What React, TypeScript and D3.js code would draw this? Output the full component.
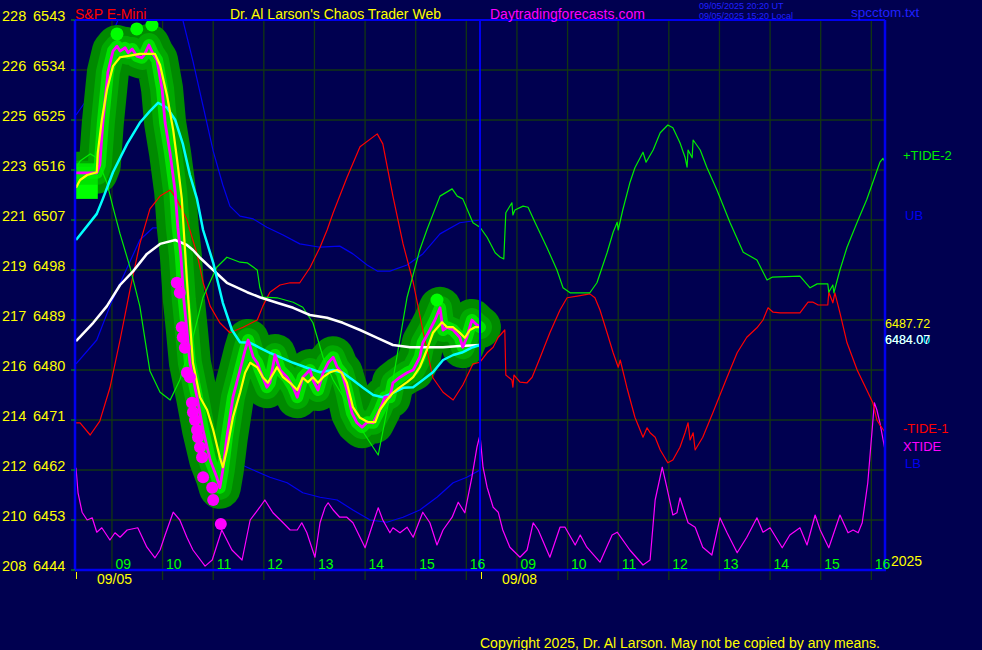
import React from 'react';
import * as d3 from 'd3';

// time axis: hours since chart start (0..16); day 1 = 0..8, day 2 = 8..16
const START_HOUR = 8.27;
const HOURS = [9, 10, 11, 12, 13, 14, 15, 16];
const DAYS = ['09/05', '09/08'];
const PRICE_TICKS = [6543, 6534, 6525, 6516, 6507, 6498, 6489, 6480, 6471, 6462, 6453, 6444];
const ALT_TICKS = ['228', '226', '225', '223', '221', '219', '217', '216', '214', '212', '210', '208'];

const PRICE: [number, number][] = [
  [0.02, 6515.5], [0.43, 6515.5], [0.49, 6516.9], [0.55, 6524.5], [0.65, 6533.6], [0.75, 6537.4], [0.83, 6538.3],
  [0.89, 6537.4], [0.99, 6538.0], [1.05, 6537.1], [1.13, 6537.8], [1.22, 6536.5], [1.32, 6536.2], [1.38, 6536.9],
  [1.46, 6538.5], [1.54, 6536.9], [1.62, 6535.8], [1.72, 6530.6], [1.78, 6524.5], [1.88, 6518.9], [1.98, 6512.0],
  [2.03, 6505.7], [2.09, 6500.7], [2.15, 6492.6], [2.21, 6487.2], [2.27, 6481.3], [2.41, 6475.1], [2.53, 6469.2],
  [2.67, 6463.8], [2.80, 6460.7], [2.86, 6458.8], [2.92, 6462.0], [3.00, 6467.9], [3.12, 6475.1], [3.26, 6480.0],
  [3.36, 6483.6], [3.42, 6485.4], [3.52, 6482.3], [3.60, 6481.3], [3.65, 6480.0], [3.79, 6476.9], [3.85, 6477.7],
  [3.95, 6482.7], [4.05, 6480.0], [4.19, 6478.7], [4.31, 6476.9], [4.39, 6475.1], [4.50, 6478.7], [4.64, 6480.0],
  [4.70, 6478.2], [4.80, 6476.4], [4.90, 6479.5], [5.00, 6481.3], [5.10, 6482.3], [5.18, 6480.5], [5.27, 6479.5],
  [5.37, 6476.4], [5.47, 6472.3], [5.57, 6470.5], [5.67, 6469.7], [5.77, 6470.6], [5.89, 6470.5], [6.02, 6472.8],
  [6.12, 6475.1], [6.22, 6475.1], [6.28, 6477.7], [6.42, 6478.7], [6.56, 6479.5], [6.68, 6480.0], [6.81, 6482.3],
  [6.87, 6484.9], [7.01, 6487.2], [7.11, 6489.0], [7.21, 6491.2], [7.27, 6487.2], [7.35, 6487.7], [7.47, 6487.2],
  [7.60, 6485.9], [7.66, 6484.1], [7.74, 6485.9], [7.84, 6489.0], [7.94, 6488.1], [8.00, 6487.7],
];

const SMOOTH: [number, number][] = [
  [0.02, 6512.8], [0.10, 6514.2], [0.24, 6515.1], [0.43, 6515.6], [0.45, 6519.1], [0.53, 6525.0], [0.63, 6530.4],
  [0.75, 6534.7], [0.89, 6536.3], [1.03, 6536.5], [1.28, 6536.9], [1.44, 6536.9], [1.58, 6536.9], [1.68, 6534.9],
  [1.82, 6529.3], [1.94, 6523.2], [2.03, 6516.9], [2.11, 6510.8], [2.21, 6496.2], [2.33, 6481.3], [2.47, 6475.1],
  [2.61, 6472.8], [2.73, 6469.2], [2.86, 6464.3], [2.92, 6462.5], [3.00, 6465.6], [3.12, 6471.5], [3.26, 6475.9],
  [3.36, 6479.5], [3.46, 6481.3], [3.60, 6480.5], [3.71, 6478.7], [3.81, 6477.7], [3.99, 6480.5], [4.11, 6478.7],
  [4.25, 6477.7], [4.39, 6476.4], [4.50, 6478.6], [4.60, 6477.8], [4.70, 6478.7], [4.80, 6477.7], [4.90, 6478.7],
  [5.04, 6479.6], [5.18, 6480.0], [5.27, 6479.5], [5.37, 6477.7], [5.49, 6473.3], [5.63, 6471.4], [5.79, 6470.6],
  [5.93, 6470.6], [6.02, 6472.8], [6.16, 6474.6], [6.28, 6475.9], [6.42, 6476.9], [6.56, 6477.8], [6.68, 6478.7],
  [6.81, 6480.5], [6.95, 6483.6], [7.07, 6486.7], [7.25, 6488.6], [7.35, 6487.7], [7.47, 6487.7], [7.60, 6486.7],
  [7.70, 6485.8], [7.80, 6487.2], [7.90, 6487.7], [8.00, 6487.72],
];

const CYAN_AVG: [number, number][] = [
  [0.02, 6503.4], [0.43, 6508.1], [0.55, 6510.8], [0.75, 6515.6], [1.03, 6520.7], [1.28, 6524.5], [1.48, 6526.6],
  [1.64, 6528.1], [1.82, 6527.2], [1.98, 6525.0], [2.13, 6520.7], [2.27, 6515.1], [2.41, 6510.8], [2.53, 6505.2],
  [2.73, 6499.3], [2.92, 6492.1], [3.10, 6487.2], [3.26, 6485.0], [3.46, 6484.9], [3.65, 6484.0], [3.85, 6483.1],
  [4.05, 6482.3], [4.31, 6481.3], [4.58, 6480.4], [4.84, 6479.6], [5.10, 6480.0], [5.29, 6479.5], [5.49, 6478.2],
  [5.69, 6476.8], [5.89, 6475.5], [6.08, 6475.1], [6.28, 6475.9], [6.48, 6476.8], [6.68, 6476.9], [6.87, 6478.2],
  [7.07, 6479.6], [7.27, 6481.8], [7.47, 6482.7], [7.66, 6483.2], [7.86, 6484.1], [8.00, 6484.5],
];

const WHITE_AVG: [number, number][] = [
  [0.02, 6485.2], [0.36, 6488.5], [0.63, 6491.5], [0.89, 6495.3], [1.15, 6497.8], [1.42, 6500.9], [1.68, 6502.7],
  [1.98, 6503.4], [2.21, 6502.5], [2.33, 6501.6], [2.47, 6500.2], [2.67, 6498.5], [3.00, 6495.7], [3.40, 6494.0],
  [3.65, 6493.1], [3.99, 6492.1], [4.31, 6491.2], [4.64, 6489.9], [4.98, 6489.4], [5.29, 6488.5], [5.63, 6487.2],
  [5.97, 6485.8], [6.28, 6484.5], [6.62, 6484.1], [6.95, 6484.1], [7.27, 6484.1], [7.60, 6484.3], [8.00, 6484.5],
];

const UPPER_BAND: [number, number][] = [
  [0.02, 6525.9], [0.26, 6529.0], [0.49, 6533.6], [0.69, 6539.4], [0.89, 6543.9], [1.48, 6546.6], [1.98, 6544.8],
  [2.13, 6543.0], [2.33, 6535.6], [2.53, 6527.5], [2.73, 6519.4], [2.92, 6513.3], [3.06, 6509.5], [3.26, 6507.7],
  [3.52, 6507.2], [3.79, 6505.7], [4.11, 6504.3], [4.44, 6502.7], [4.84, 6502.1], [5.23, 6502.3], [5.49, 6500.9],
  [5.77, 6498.9], [5.97, 6497.8], [6.22, 6497.8], [6.56, 6498.9], [6.87, 6500.9], [7.21, 6504.5], [7.60, 6506.5],
  [8.00, 6507.0],
];

const LOWER_BAND: [number, number][] = [
  [0.02, 6481.1], [0.43, 6485.4], [0.69, 6491.5], [1.03, 6498.4], [1.28, 6503.4], [1.54, 6505.6], [1.68, 6505.6],
  [1.88, 6502.5], [2.13, 6494.4], [2.33, 6487.7], [2.53, 6482.3], [2.67, 6477.3], [2.86, 6470.1], [3.20, 6463.3],
  [3.52, 6462.0], [3.85, 6460.7], [4.19, 6459.7], [4.50, 6457.9], [4.84, 6457.1], [5.18, 6456.6], [5.49, 6454.8],
  [5.83, 6453.0], [6.16, 6452.6], [6.48, 6453.5], [6.81, 6454.8], [7.15, 6457.1], [7.47, 6459.7], [7.74, 6460.7],
  [8.00, 6462.0],
];

const TIDE_1: [number, number][] = [
  [0.02, 6470.5], [0.10, 6470.5], [0.30, 6468.3], [0.49, 6470.8], [0.69, 6476.8], [0.89, 6485.4], [1.09, 6494.6],
  [1.28, 6502.7], [1.48, 6509.0], [1.68, 6511.3], [1.88, 6512.4], [2.01, 6510.8], [2.21, 6507.0], [2.41, 6500.9],
  [2.53, 6495.8], [2.67, 6491.5], [2.86, 6488.5], [3.06, 6486.7], [3.32, 6487.7], [3.60, 6489.0], [3.71, 6491.5],
  [3.85, 6494.0], [4.05, 6495.3], [4.25, 6495.7], [4.44, 6495.7], [4.64, 6498.4], [4.84, 6502.1], [4.98, 6505.2],
  [5.10, 6508.3], [5.37, 6514.6], [5.63, 6520.2], [5.97, 6522.5], [6.08, 6520.7], [6.28, 6511.3], [6.48, 6502.7],
  [6.68, 6495.8], [6.87, 6487.2], [7.07, 6478.6], [7.27, 6476.0], [7.47, 6474.6], [7.66, 6477.3], [7.86, 6481.1],
  [8.00, 6481.4], [8.14, 6483.1], [8.26, 6484.1], [8.36, 6485.9], [8.49, 6487.2], [8.51, 6479.1], [8.63, 6478.2],
  [8.65, 6476.9], [8.67, 6479.1], [8.79, 6477.8], [8.93, 6477.7], [9.03, 6478.7], [9.19, 6482.3], [9.38, 6486.7],
  [9.58, 6490.8], [9.72, 6493.0], [9.92, 6493.3], [10.17, 6493.7], [10.27, 6493.0], [10.37, 6490.8], [10.51, 6486.7],
  [10.63, 6483.1], [10.73, 6480.5], [10.77, 6481.8], [10.90, 6476.9], [11.06, 6471.5], [11.22, 6467.9], [11.30, 6469.6],
  [11.36, 6468.7], [11.46, 6467.9], [11.56, 6465.6], [11.71, 6463.3], [11.81, 6463.8], [11.95, 6466.1], [12.05, 6468.7],
  [12.11, 6470.5], [12.15, 6467.4], [12.21, 6468.7], [12.25, 6465.6], [12.40, 6467.9], [12.60, 6472.3], [12.88, 6478.7],
  [13.08, 6483.1], [13.27, 6485.9], [13.47, 6487.6], [13.59, 6489.0], [13.69, 6491.2], [13.79, 6490.4], [13.93, 6490.3],
  [14.32, 6490.3], [14.48, 6492.2], [14.58, 6492.2], [14.68, 6491.7], [14.87, 6491.7], [14.89, 6494.0], [14.97, 6492.1],
  [15.01, 6493.9], [15.11, 6490.3], [15.25, 6484.9], [15.45, 6480.0], [15.64, 6476.4], [15.76, 6474.1], [15.84, 6471.0],
  [15.90, 6470.1], [16.00, 6468.8],
];

const TIDE_2: [number, number][] = [
  [0.02, 6516.4], [0.10, 6517.6], [0.30, 6518.9], [0.43, 6518.2], [0.63, 6513.7], [0.75, 6509.3], [0.89, 6504.5],
  [1.09, 6498.4], [1.28, 6491.5], [1.48, 6479.8], [1.68, 6476.0], [1.88, 6474.6], [2.07, 6478.2], [2.33, 6485.9],
  [2.53, 6493.1], [2.80, 6498.5], [3.00, 6500.3], [3.26, 6499.4], [3.40, 6499.3], [3.60, 6498.0], [3.65, 6494.9],
  [3.71, 6493.1], [3.99, 6493.0], [4.31, 6492.2], [4.50, 6491.3], [4.70, 6488.5], [4.90, 6482.3], [5.10, 6478.2],
  [5.37, 6474.1], [5.63, 6469.7], [5.83, 6466.9], [5.99, 6464.7], [6.28, 6478.2], [6.56, 6493.1], [6.81, 6501.6],
  [6.95, 6505.2], [7.21, 6511.3], [7.45, 6512.6], [7.55, 6511.3], [7.66, 6510.8], [7.86, 6506.5], [8.00, 6505.7],
  [8.14, 6503.9], [8.30, 6501.1], [8.40, 6500.3], [8.47, 6500.0], [8.51, 6508.3], [8.63, 6510.1], [8.65, 6507.9],
  [8.69, 6508.8], [8.85, 6509.5], [8.95, 6509.3], [9.09, 6506.5], [9.32, 6502.1], [9.52, 6498.0], [9.64, 6494.8],
  [9.78, 6493.9], [9.98, 6493.9], [10.17, 6493.9], [10.31, 6495.7], [10.51, 6501.1], [10.63, 6504.8], [10.71, 6506.6],
  [10.73, 6505.2], [10.82, 6508.8], [10.96, 6513.7], [11.06, 6516.4], [11.22, 6519.2], [11.28, 6517.4], [11.42, 6519.6],
  [11.56, 6522.7], [11.71, 6524.1], [11.81, 6523.6], [11.95, 6520.9], [12.05, 6518.3], [12.09, 6516.5], [12.11, 6519.6],
  [12.19, 6518.2], [12.21, 6521.4], [12.35, 6519.6], [12.48, 6516.5], [12.68, 6512.4], [12.94, 6506.5], [13.20, 6501.2],
  [13.47, 6499.8], [13.67, 6496.2], [13.77, 6496.7], [14.32, 6496.9], [14.52, 6494.8], [14.66, 6495.5], [14.87, 6495.5],
  [14.89, 6494.0], [14.97, 6495.3], [14.99, 6493.9], [15.11, 6498.0], [15.25, 6502.1], [15.45, 6506.6], [15.64, 6510.7],
  [15.90, 6517.4], [15.96, 6518.1], [16.00, 6517.4],
];

const XTIDE: [number, number][] = [
  [0.02, 6462.4], [0.06, 6457.9], [0.14, 6454.4], [0.24, 6453.0], [0.34, 6453.4], [0.43, 6450.8], [0.53, 6451.6],
  [0.69, 6449.4], [0.79, 6450.7], [0.89, 6449.9], [1.03, 6451.2], [1.24, 6451.6], [1.42, 6448.1], [1.58, 6446.2],
  [1.68, 6447.6], [1.78, 6450.3], [1.94, 6454.4], [2.07, 6453.0], [2.21, 6449.9], [2.33, 6447.6], [2.57, 6444.7],
  [2.71, 6445.8], [2.90, 6451.2], [3.10, 6447.6], [3.30, 6445.8], [3.46, 6453.0], [3.65, 6455.3], [3.75, 6456.6],
  [3.91, 6454.3], [4.11, 6452.5], [4.25, 6451.2], [4.39, 6451.2], [4.48, 6452.5], [4.58, 6450.7], [4.74, 6446.3],
  [4.84, 6452.5], [4.94, 6455.3], [5.00, 6456.1], [5.10, 6454.8], [5.23, 6453.5], [5.37, 6453.5], [5.49, 6452.5],
  [5.63, 6449.9], [5.73, 6448.0], [5.89, 6452.5], [5.99, 6455.2], [6.08, 6453.0], [6.22, 6450.7], [6.28, 6451.6],
  [6.42, 6450.7], [6.56, 6451.7], [6.68, 6449.9], [6.81, 6453.0], [6.87, 6454.4], [7.01, 6452.5], [7.15, 6448.5],
  [7.27, 6451.2], [7.45, 6453.5], [7.57, 6456.2], [7.70, 6454.3], [7.84, 6460.7], [7.94, 6466.1], [8.00, 6468.3],
  [8.06, 6462.5], [8.14, 6458.9], [8.26, 6455.3], [8.36, 6454.4], [8.45, 6451.2], [8.59, 6448.1], [8.79, 6446.3],
  [8.93, 6447.6], [9.05, 6452.5], [9.15, 6451.2], [9.38, 6446.3], [9.58, 6451.7], [9.68, 6451.7], [9.88, 6448.5],
  [9.98, 6450.3], [10.11, 6448.1], [10.37, 6445.4], [10.61, 6450.3], [10.71, 6450.8], [10.96, 6447.6], [11.22, 6444.9],
  [11.36, 6445.8], [11.46, 6456.6], [11.60, 6462.5], [11.69, 6458.9], [11.81, 6453.9], [11.89, 6454.3], [11.95, 6457.0],
  [12.01, 6455.3], [12.11, 6452.5], [12.25, 6451.7], [12.40, 6448.1], [12.58, 6446.7], [12.74, 6453.4], [12.88, 6450.7],
  [13.08, 6447.1], [13.27, 6449.9], [13.47, 6453.4], [13.59, 6450.8], [13.73, 6451.6], [13.97, 6448.0], [14.12, 6450.3],
  [14.32, 6451.6], [14.46, 6448.5], [14.62, 6453.9], [14.72, 6451.2], [14.89, 6448.0], [15.11, 6453.9], [15.27, 6450.7],
  [15.37, 6451.2], [15.47, 6450.7], [15.55, 6452.5], [15.66, 6459.7], [15.79, 6474.1], [15.84, 6472.8], [15.90, 6470.5],
  [16.00, 6465.6],
];

const LOW_DOTS: [number, number][] = [
  [2.01, 6495.7], [2.07, 6493.9], [2.11, 6487.7], [2.13, 6485.9], [2.17, 6484.0], [2.21, 6479.5], [2.27, 6478.7],
  [2.31, 6474.1], [2.33, 6472.4], [2.37, 6471.0], [2.41, 6469.2], [2.43, 6467.9], [2.47, 6466.1], [2.51, 6464.3],
  [2.53, 6460.7], [2.71, 6458.8], [2.73, 6456.6], [2.88, 6452.3],
];

const HIGH_DOTS: [number, number][] = [
  [0.83, 6540.5], [1.22, 6541.4], [1.52, 6542.1], [7.15, 6492.6],
];

const FIRST_BAR = { t0: 0.0, t1: 0.45, high: 6517.2, low: 6510.8 };

const LAST_VALUES = { yellow: '6487.72', white: '6484.07', cyan: '6484.00' };

const FONT = '"Liberation Sans", Arial, sans-serif';

const X0 = 75, X1 = 885, Y0 = 20, Y1 = 570;

export default function App() {
  const x = d3.scaleLinear().domain([0, 16]).range([X0, X1]);
  const y = d3.scaleLinear().domain([6444, 6543]).range([Y1, Y0]);
  const line = d3.line<[number, number]>().x(d => x(d[0])).y(d => y(d[1]));

  const gridHours: { t: number; h: number; d: number }[] = [];
  [0, 1].forEach(d => HOURS.forEach(h => gridHours.push({ t: h - START_HOUR + d * 8, h, d })));

  const grid = '#123612';
  const blue = '#0000f0';
  const pricePath = line(PRICE) || '';

  return (
    <svg width={982} height={650} style={{ position: 'fixed', left: 0, top: 0, display: 'block' }}
      fontFamily={FONT}>
      <defs>
        <clipPath id="plotClip">
          <rect x={X0} y={Y0} width={X1 - X0} height={Y1 - Y0} />
        </clipPath>
      </defs>
      <rect x={0} y={0} width={982} height={650} fill="#000050" />

      {/* horizontal grid */}
      {PRICE_TICKS.map(p => (
        <line key={'h' + p} x1={X0} x2={X1} y1={y(p)} y2={y(p)} stroke={grid} strokeWidth={1.3} />
      ))}
      {/* vertical grid */}
      {gridHours.map(g => (
        <line key={'v' + g.t} x1={x(g.t)} x2={x(g.t)} y1={Y0} y2={g.h === 9 ? Y1 : Y1 + 10}
          stroke={grid} strokeWidth={1.3} />
      ))}

      <g clipPath="url(#plotClip)" fill="none" strokeLinejoin="round">
        <path d={line(UPPER_BAND) || ''} stroke={blue} strokeWidth={1.2} />
        <path d={line(LOWER_BAND) || ''} stroke={blue} strokeWidth={1.2} />

        {/* activity blob */}
        <path d={pricePath} stroke="#008a00" strokeWidth={42} strokeLinecap="round" />
        <rect x={x(FIRST_BAR.t0) - 5} y={y(FIRST_BAR.high)} width={x(FIRST_BAR.t1) - x(FIRST_BAR.t0) + 5}
          height={y(FIRST_BAR.low) - y(FIRST_BAR.high)} fill="#00ff00" />
        <path d={pricePath} stroke="#00c800" strokeWidth={24} strokeLinecap="round" opacity={0.5} />
        <path d={pricePath} stroke="#00f000" strokeWidth={12} strokeLinecap="round" opacity={0.8} />
        {HIGH_DOTS.map((d, i) => (
          <circle key={'g' + i} cx={x(d[0])} cy={y(d[1])} r={6.5} fill="#00ff00" />
        ))}

        <path d={line(XTIDE) || ''} stroke="#ff00ff" strokeWidth={1.2} />
        <path d={line(TIDE_1) || ''} stroke="#ff0000" strokeWidth={1.2} />
        <path d={line(TIDE_2) || ''} stroke="#00ee00" strokeWidth={1.2} />

        <path d={line(WHITE_AVG) || ''} stroke="#ffffff" strokeWidth={2.5} />
        <path d={line(CYAN_AVG) || ''} stroke="#00ffff" strokeWidth={2.5} />
        <path d={pricePath} stroke="#ff00ff" strokeWidth={2.8} />
        <path d={line(SMOOTH) || ''} stroke="#ffff00" strokeWidth={2.2} />
        {LOW_DOTS.map((d, i) => (
          <circle key={'m' + i} cx={x(d[0])} cy={y(d[1])} r={6} fill="#ff00ff" />
        ))}
      </g>

      {/* frame */}
      <line x1={X0} x2={X1} y1={Y0} y2={Y0} stroke={blue} strokeWidth={2} />
      <line x1={X0} x2={X1 + 1} y1={Y1} y2={Y1} stroke={blue} strokeWidth={2.5} />
      <line x1={X0} x2={X0} y1={Y0} y2={Y1} stroke={blue} strokeWidth={2.5} />
      <line x1={X1} x2={X1} y1={Y0} y2={Y1} stroke={blue} strokeWidth={2.5} />
      <line x1={x(8)} x2={x(8)} y1={Y0} y2={Y1} stroke={blue} strokeWidth={2} />

      {/* left axis labels */}
      {PRICE_TICKS.map((p, i) => (
        <g key={'l' + p}>
          <line x1={X0 - 4} x2={X0} y1={y(p)} y2={y(p)} stroke="#00b000" strokeWidth={1} />
          <text x={2} y={y(p) + 0.5} fill="#ffff00" fontSize={14.5}>{ALT_TICKS[i]}</text>
          <text x={33} y={y(p) + 0.5} fill="#ffff00" fontSize={14.5}>{p}</text>
        </g>
      ))}

      {/* hour labels */}
      {gridHours.map(g => (
        <text key={'t' + g.t} x={x(g.t) + 3.5} y={568.5} fill="#00ff00" fontSize={14}>
          {String(g.h).padStart(2, '0')}
        </text>
      ))}
      {DAYS.map((d, i) => (
        <g key={d}>
          <line x1={x(i * 8) + 1.5} x2={x(i * 8) + 1.5} y1={572} y2={579} stroke="#ffff00" strokeWidth={1} />
          <text x={x(i * 8) + 22} y={583.5} fill="#ffff00" fontSize={14}>{d}</text>
        </g>
      ))}
      <text x={891} y={566} fill="#ffff00" fontSize={14}>2025</text>

      {/* header */}
      <text x={75} y={18.5} fill="#ff0000" fontSize={14}>S&amp;P E-Mini</text>
      <text x={230} y={18.5} fill="#ffff00" fontSize={14}>Dr. Al Larson's Chaos Trader Web</text>
      <text x={490} y={18.5} fill="#ff00ff" fontSize={14}>Daytradingforecasts.com</text>
      <text x={699} y={9} fill="#2020ff" fontSize={9}>09/05/2025 20:20 UT</text>
      <text x={699} y={18.5} fill="#2020ff" fontSize={9}>09/05/2025 15:20 Local</text>
      <text x={851} y={16.5} fill="#2020ff" fontSize={13.5}>spcctom.txt</text>

      {/* right legend */}
      <text x={903} y={160} fill="#00ee00" fontSize={13}>+TIDE-2</text>
      <text x={905} y={219.5} fill={blue} fontSize={13}>UB</text>
      <text x={885} y={y(6487.72) + 1} fill="#ffff00" fontSize={12.5}>{LAST_VALUES.yellow}</text>
      <text x={885} y={y(6487.72) + 17} fill="#00ffff" fontSize={12.5}>{LAST_VALUES.cyan}</text>
      <text x={885} y={y(6487.72) + 17} fill="#ffffff" fontSize={12.5}>{LAST_VALUES.white}</text>
      <text x={903} y={433} fill="#ff0000" fontSize={13}>-TIDE-1</text>
      <text x={903} y={451} fill="#ff00ff" fontSize={13}>XTIDE</text>
      <text x={905} y={468} fill={blue} fontSize={13}>LB</text>

      <text x={480} y={647.5} fill="#ffff00" fontSize={14}>Copyright 2025, Dr. Al Larson. May not be copied by any means.</text>
    </svg>
  );
}
